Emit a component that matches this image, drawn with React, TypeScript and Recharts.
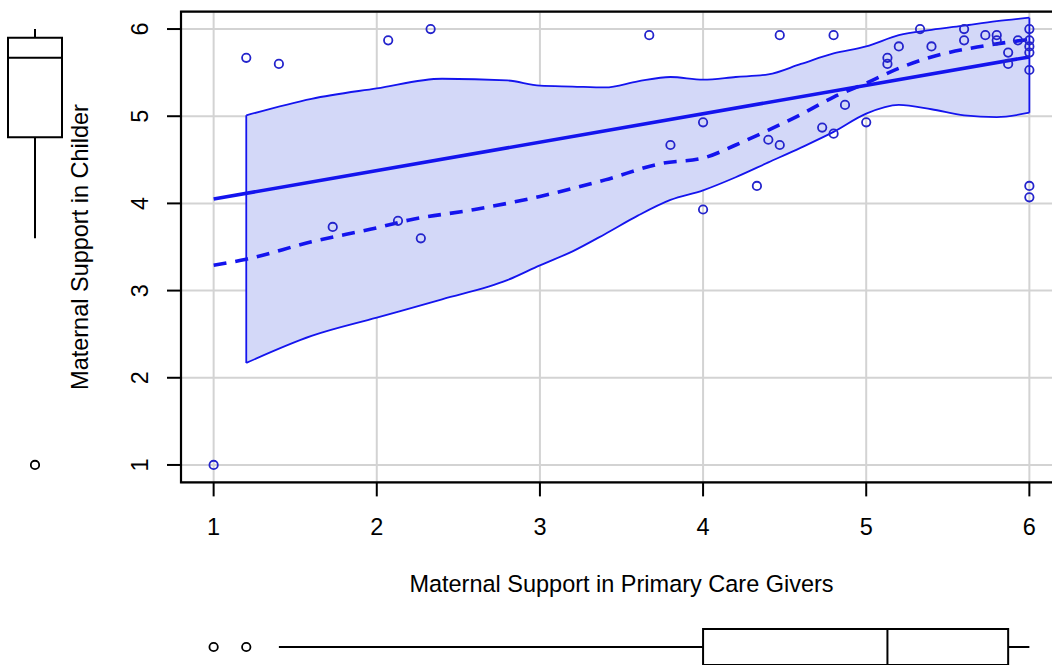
import React from 'react';
import {
  ComposedChart,
  Area,
  Line,
  Scatter,
  XAxis,
  YAxis,
  CartesianGrid,
  ReferenceArea,
  ReferenceLine,
} from 'recharts';

const axisTicks = [1, 2, 3, 4, 5, 6];
const axisDomain: [number, number] = [0.8, 6.2];

// observed scores, one entry per respondent
const caregiverScores = [
  1, 1.2, 1.4, 1.73, 2.07, 2.13, 2.27, 2.33, 3.67, 3.8, 4, 4, 4.33, 4.4, 4.47, 4.47, 4.73, 4.8, 4.8, 4.87, 5,
  5.13, 5.13, 5.2, 5.33, 5.4, 5.6, 5.6, 5.73, 5.8, 5.8, 5.87, 5.87, 5.93, 6, 6, 6, 6, 6, 6, 6,
];
const childScores = [
  1, 5.67, 5.6, 3.73, 5.87, 3.8, 3.6, 6, 5.93, 4.67, 4.93, 3.93, 4.2, 4.73, 4.67, 5.93, 4.87, 4.8, 5.93, 5.13, 4.93,
  5.67, 5.6, 5.8, 6, 5.8, 6, 5.87, 5.93, 5.93, 5.87, 5.73, 5.6, 5.87, 6, 5.87, 5.8, 5.73, 5.53, 4.2, 4.07,
];

// linear fit
const fitX = [1, 6];
const fitY = [4.05, 5.68];

// smoother
const smoothX = [1, 1.2, 1.6, 2, 2.2, 2.6, 3, 3.4, 3.75, 4, 4.2, 4.4, 4.6, 4.8, 5, 5.2, 5.4, 5.7, 6];
const smoothY = [3.29, 3.36, 3.56, 3.72, 3.81, 3.93, 4.08, 4.27, 4.46, 4.52, 4.67, 4.84, 5.02, 5.22, 5.38, 5.55, 5.68, 5.8, 5.88];

// variability band of the smoother
const bandX = [1.2, 1.6, 2, 2.4, 2.8, 3, 3.2, 3.4, 3.6, 3.8, 4, 4.2, 4.4, 4.6, 4.8, 5, 5.2, 5.4, 5.6, 5.8, 6];
const bandLower = [2.17, 2.48, 2.69, 2.9, 3.12, 3.29, 3.45, 3.65, 3.86, 4.04, 4.15, 4.3, 4.47, 4.64, 4.82, 5.03, 5.13, 5.08, 5.01, 4.99, 5.04];
const bandUpper = [5.01, 5.2, 5.32, 5.43, 5.41, 5.35, 5.34, 5.33, 5.4, 5.45, 5.42, 5.45, 5.48, 5.6, 5.72, 5.8, 5.93, 5.99, 6.04, 6.09, 6.13];

// marginal boxplots: [lower whisker, Q1, median, Q3, upper whisker]
const caregiverBox = [1.4, 4.0, 5.13, 5.87, 6.0];
const caregiverOutliers = [1, 1.2];
const childBox = [3.6, 4.76, 5.67, 5.9, 6.0];
const childOutliers = [1];

const BLUE = '#1414ee';
const POINT_BLUE = '#2424cc';
const FONT = "'Liberation Sans', Arial, Helvetica, sans-serif";
const FS = 23.5;

const points = caregiverScores.map((x, i) => ({ x, y: childScores[i] }));
const fitData = fitX.map((x, i) => ({ x, y: fitY[i] }));
const smoothData = smoothX.map((x, i) => ({ x, y: smoothY[i] }));
const bandData = bandX.map((x, i) => ({ x, band: [bandLower[i], bandUpper[i]] }));
const last = bandX.length - 1;
const bandLeftEdge = [
  { x: bandX[0], y: bandLower[0] },
  { x: bandX[0], y: bandUpper[0] },
];
const bandRightEdge = [
  { x: bandX[last], y: bandLower[last] },
  { x: bandX[last], y: bandUpper[last] },
];

const ring = (color: string) => (props: any) =>
  <circle cx={props.cx} cy={props.cy} r={4.2} fill="none" stroke={color} strokeWidth={1.8} />;

const YTick = (props: any) => {
  const { x, y, payload } = props;
  return (
    <text x={x} y={y} transform={`rotate(-90 ${x} ${y})`} textAnchor="middle" fontSize={FS} fill="#000" fontFamily={FONT}>
      {payload.value}
    </text>
  );
};

const renderYTitle = (props: any) => {
  const vb = props.viewBox || {};
  const cy = (vb.y ?? 11.6) + (vb.height ?? 470.8) / 2;
  const cx = 88.5;
  return (
    <text x={cx} y={cy} transform={`rotate(-90 ${cx} ${cy})`} textAnchor="middle" fontSize={FS} fill="#000" fontFamily={FONT}>
      Maternal Support in Childer
    </text>
  );
};

const renderXTitle = (props: any) => {
  const vb = props.viewBox || {};
  const cx = (vb.x ?? 181) + (vb.width ?? 881) / 2;
  return (
    <text x={cx} y={592} textAnchor="middle" fontSize={FS} fill="#000" fontFamily={FONT}>
      Maternal Support in Primary Care Givers
    </text>
  );
};

const boxStroke = { stroke: '#000', strokeWidth: 2 };

export default function App() {
  const [lo, q1, med, q3, hi] = caregiverBox;
  const [clo, cq1, cmed, cq3, chi] = childBox;
  return (
    <div
      style={{
        position: 'absolute',
        left: 0,
        top: 0,
        width: 1052,
        height: 665,
        overflow: 'hidden',
        background: '#fff',
        fontFamily: FONT,
      }}
    >
      {/* main scatterplot */}
      <div style={{ position: 'absolute', left: 0, top: 0 }}>
        <ComposedChart width={1072} height={622.4} data={bandData} margin={{ top: 11.6, right: 10, bottom: 0, left: 0 }}>
          <CartesianGrid stroke="#d3d3d3" strokeWidth={2} />
          <XAxis
            type="number"
            dataKey="x"
            domain={axisDomain}
            ticks={axisTicks}
            allowDataOverflow
            axisLine={false}
            tickSize={14}
            tickMargin={22}
            tickLine={{ stroke: '#000', strokeWidth: 2 }}
            tick={{ fill: '#000', fontSize: FS, fontFamily: FONT }}
            height={140}
            label={{ value: 'Maternal Support in Primary Care Givers', content: renderXTitle }}
          />
          <YAxis
            type="number"
            domain={axisDomain}
            ticks={axisTicks}
            allowDataOverflow
            axisLine={false}
            tickSize={14}
            tickMargin={18.6}
            tickLine={{ stroke: '#000', strokeWidth: 2 }}
            tick={<YTick />}
            width={181}
            label={{ value: 'Maternal Support in Childer', content: renderYTitle }}
          />
          <Area
            dataKey="band"
            type="monotone"
            fill="#d3d8f8"
            fillOpacity={1}
            stroke={BLUE}
            strokeWidth={1.8}
            isAnimationActive={false}
          />
          <Line data={bandLeftEdge} dataKey="y" stroke={BLUE} strokeWidth={1.8} dot={false} isAnimationActive={false} />
          <Line data={bandRightEdge} dataKey="y" stroke={BLUE} strokeWidth={1.8} dot={false} isAnimationActive={false} />
          <Scatter data={points} dataKey="y" shape={ring(POINT_BLUE)} isAnimationActive={false} />
          <Line data={fitData} dataKey="y" type="linear" stroke={BLUE} strokeWidth={3.6} dot={false} isAnimationActive={false} />
          <Line
            data={smoothData}
            dataKey="y"
            type="monotone"
            stroke={BLUE}
            strokeWidth={3.6}
            strokeDasharray="13 9"
            dot={false}
            isAnimationActive={false}
          />
          <ReferenceArea x1={axisDomain[0]} x2={axisDomain[1]} y1={axisDomain[0]} y2={axisDomain[1]} fill="none" stroke="#000" strokeWidth={2.2} ifOverflow="visible" />
        </ComposedChart>
      </div>

      {/* boxplot for children, left margin */}
      <div style={{ position: 'absolute', left: 0, top: 0 }}>
        <ComposedChart width={72} height={482.4} margin={{ top: 11.6, right: 10, bottom: 0, left: 8 }}>
          <XAxis type="number" dataKey="x" domain={[0, 1]} hide allowDataOverflow />
          <YAxis type="number" domain={axisDomain} hide allowDataOverflow />
          <ReferenceLine segment={[{ x: 0.5, y: clo }, { x: 0.5, y: cq1 }]} {...boxStroke} ifOverflow="visible" />
          <ReferenceLine segment={[{ x: 0.5, y: cq3 }, { x: 0.5, y: chi }]} {...boxStroke} ifOverflow="visible" />
          <ReferenceArea x1={0} x2={1} y1={cq1} y2={cq3} fill="#fff" fillOpacity={1} {...boxStroke} ifOverflow="visible" />
          <ReferenceLine segment={[{ x: 0, y: cmed }, { x: 1, y: cmed }]} {...boxStroke} ifOverflow="visible" />
          <Scatter data={childOutliers.map((y) => ({ x: 0.5, y }))} dataKey="y" shape={ring('#000')} isAnimationActive={false} />
        </ComposedChart>
      </div>

      {/* boxplot for caregivers, bottom margin */}
      <div style={{ position: 'absolute', left: 0, top: 611 }}>
        <ComposedChart width={1072} height={72} margin={{ top: 0, right: 10, bottom: 0, left: 181 }}>
          <XAxis type="number" dataKey="x" domain={axisDomain} hide allowDataOverflow />
          <YAxis type="number" domain={[0, 1]} hide allowDataOverflow />
          <ReferenceLine segment={[{ x: lo, y: 0.5 }, { x: q1, y: 0.5 }]} {...boxStroke} ifOverflow="visible" />
          <ReferenceLine segment={[{ x: q3, y: 0.5 }, { x: hi, y: 0.5 }]} {...boxStroke} ifOverflow="visible" />
          <ReferenceArea x1={q1} x2={q3} y1={0.25} y2={0.75} fill="#fff" fillOpacity={1} {...boxStroke} ifOverflow="visible" />
          <ReferenceLine segment={[{ x: med, y: 0.25 }, { x: med, y: 0.75 }]} {...boxStroke} ifOverflow="visible" />
          <Scatter data={caregiverOutliers.map((x) => ({ x, y: 0.5 }))} dataKey="y" shape={ring('#000')} isAnimationActive={false} />
        </ComposedChart>
      </div>
    </div>
  );
}
